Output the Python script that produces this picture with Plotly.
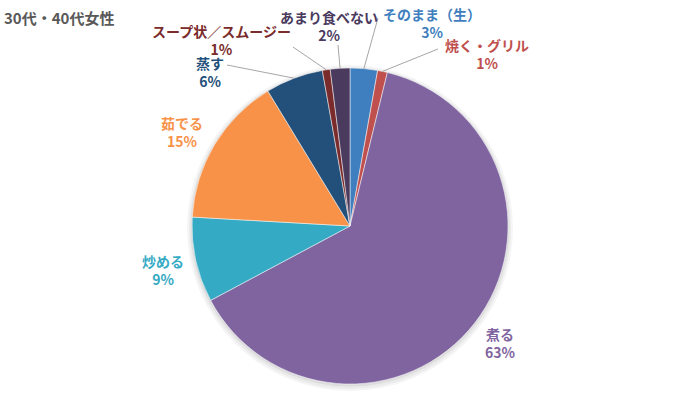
import math
import plotly.graph_objects as go

# ---- data ----
categories = ["そのまま（生）", "焼く・グリル", "煮る", "炒める", "茹でる", "蒸す", "スープ状／スムージー", "あまり食べない"]
values = [2.8, 1.0, 63.4, 8.7, 15.4, 5.9, 0.8, 2.0]
colors = ["#3F7FBF", "#C0504D", "#7F64A0", "#35AAC4", "#F79248", "#23507A", "#7A2B2B", "#4A3A5E"]
title_text = "30代・40代女性"

# ---- layout geometry (pixels) ----
W, H = 700, 420
CX, CY, R = 350, 226, 158

# label block centre (px) and leader-line start (px, or None)
label_pos = {
    "そのまま（生）": (432, 23, (378, 18)),
    "焼く・グリル": (487, 54, (438, 49)),
    "煮る": (500, 343, None),
    "炒める": (163, 270, None),
    "茹でる": (182, 132, None),
    "蒸す": (210, 72, (227, 65)),
    "スープ状／スムージー": (221, 40, (293, 47)),
    "あまり食べない": (329, 26, (338, 45)),
}

def px(x):
    return x / W

def py(y):
    return 1 - y / H

fig = go.Figure()
fig.add_trace(go.Pie(
    labels=categories,
    values=values,
    sort=False,
    direction="clockwise",
    rotation=0,
    marker=dict(colors=colors, line=dict(color="white", width=0.5)),
    textinfo="none",
    hoverinfo="label+percent",
    showlegend=False,
    domain=dict(x=[px(CX - R), px(CX + R)], y=[py(CY + R), py(CY - R)]),
))

shapes = []
# soft shadow behind the pie
for grow, dy, col in [(5, 2, "#F5F5F5"), (3, 2, "#EBEBEB"), (1.5, 1, "#DDDDDD")]:
    shapes.append(dict(
        type="circle", xref="paper", yref="paper", layer="below",
        x0=px(CX - R - grow), x1=px(CX + R + grow),
        y0=py(CY + dy + R + grow), y1=py(CY + dy - R - grow),
        fillcolor=col, line=dict(width=0),
    ))

total = sum(values)
annotations = []
cum = 0.0
for name, v, c in zip(categories, values, colors):
    mid = (cum + v / 2) / total * 2 * math.pi
    cum += v
    lx, ly, start = label_pos[name]
    pct = round(v / total * 100)
    annotations.append(dict(
        x=px(lx), y=py(ly), xref="paper", yref="paper",
        text=f"<b>{name}</b><br><b>{pct}%</b>",
        showarrow=False, align="center", borderpad=0,
        font=dict(size=14, color=c, family="Noto Sans CJK JP"),
        xanchor="center", yanchor="middle",
    ))
    if start is not None:
        ex = CX + R * math.sin(mid)
        ey = CY - R * math.cos(mid)
        shapes.append(dict(
            type="line", xref="paper", yref="paper",
            x0=px(start[0]), y0=py(start[1]), x1=px(ex), y1=py(ey),
            line=dict(color="#A6A6A6", width=1),
        ))

annotations.append(dict(
    x=px(3), y=py(18), xref="paper", yref="paper",
    text=f"<b>{title_text}</b>", showarrow=False, borderpad=0,
    xanchor="left", yanchor="middle",
    font=dict(size=15, color="#595959", family="Noto Sans CJK JP"),
))

fig.update_layout(
    width=W, height=H,
    margin=dict(l=0, r=0, t=0, b=0),
    paper_bgcolor="white", plot_bgcolor="white",
    shapes=shapes, annotations=annotations,
)

fig.write_html("out.html", config={"displayModeBar": False},
               post_script="document.body.style.margin='0';")
